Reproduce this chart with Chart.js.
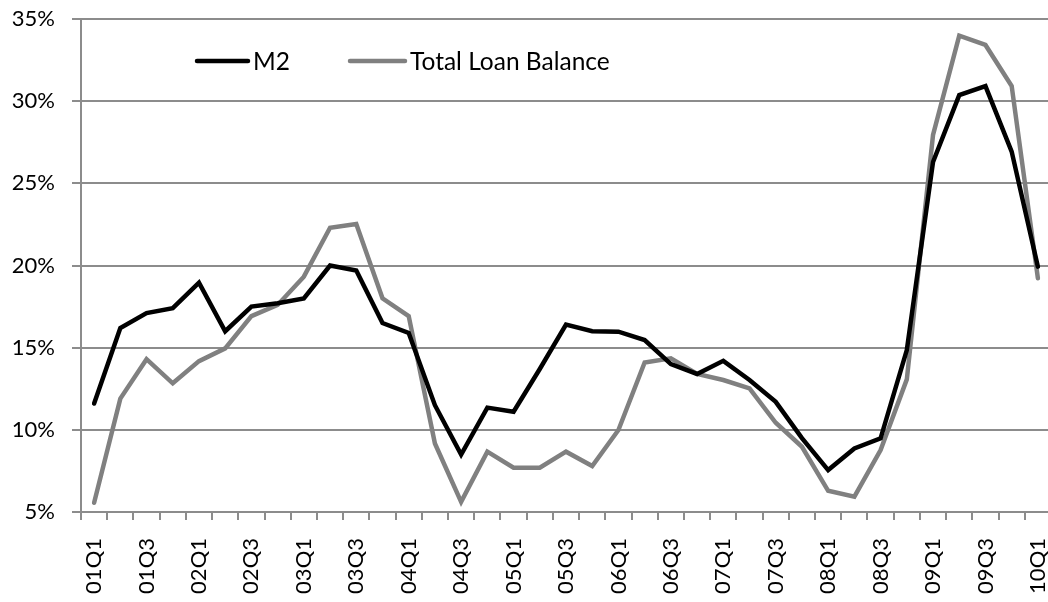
<!DOCTYPE html>
<html>
<head>
<meta charset="utf-8">
<script src="https://cdn.jsdelivr.net/npm/chart.js"></script>
<style>
    body { margin: 0; overflow: hidden; background: #ffffff; }
    #wrap { width: 1048px; height: 602px; overflow: hidden; }
</style>
</head>
<body>
<div id="wrap"><canvas id="Chart" width="1051" height="602"></canvas></div>
<script>
// Quarterly year-on-year growth, 2001Q1 - 2010Q1
const quarters = [
    '01Q1', '01Q2', '01Q3', '01Q4', '02Q1', '02Q2', '02Q3', '02Q4',
    '03Q1', '03Q2', '03Q3', '03Q4', '04Q1', '04Q2', '04Q3', '04Q4',
    '05Q1', '05Q2', '05Q3', '05Q4', '06Q1', '06Q2', '06Q3', '06Q4',
    '07Q1', '07Q2', '07Q3', '07Q4', '08Q1', '08Q2', '08Q3', '08Q4',
    '09Q1', '09Q2', '09Q3', '09Q4', '10Q1'
];
const m2Growth = [
    11.6, 16.2, 17.1, 17.4, 18.95, 16.0, 17.5, 17.7,
    18.0, 20.0, 19.7, 16.5, 15.9, 11.5, 8.5, 11.35,
    11.1, 13.7, 16.4, 16.0, 15.97, 15.46, 14.0, 13.4,
    14.2, 13.03, 11.7, 9.5, 7.55, 8.87, 9.48, 14.85,
    26.3, 30.37, 30.92, 26.93, 19.93
];
const loanGrowth = [
    5.56, 11.9, 14.3, 12.83, 14.18, 14.96, 16.92, 17.6,
    19.32, 22.3, 22.52, 18.0, 16.92, 9.17, 5.62, 8.67,
    7.7, 7.7, 8.67, 7.8, 9.99, 14.1, 14.35, 13.4,
    13.03, 12.52, 10.43, 8.97, 6.29, 5.93, 8.77, 13.07,
    27.94, 33.99, 33.42, 30.92, 19.22
];
const yTickValues = [5, 10, 15, 20, 25, 30, 35];

const gridGray = '#8c8c8c';
const fontFamily = 'Lato, "Liberation Sans", sans-serif';

// Legend drawn inside the plot area, like the original
const insideLegend = {
    id: 'insideLegend',
    afterDraw(chart) {
        const ctx = chart.ctx;
        const spots = [{ x: 197, w: 51 }, { x: 350, w: 55 }];
        const y = 61;
        ctx.save();
        ctx.font = '24.5px ' + fontFamily;
        ctx.textBaseline = 'middle';
        ctx.fillStyle = '#000000';
        chart.data.datasets.forEach((ds, i) => {
            const s = spots[i];
            ctx.strokeStyle = ds.borderColor;
            ctx.lineWidth = 4.5;
            ctx.lineCap = 'round';
            ctx.beginPath();
            ctx.moveTo(s.x, y);
            ctx.lineTo(s.x + s.w, y);
            ctx.stroke();
            ctx.fillText(ds.label, s.x + s.w + 5, y + 1);
        });
        ctx.restore();
    }
};

const ctx = document.getElementById('Chart').getContext('2d');
const myChart = new Chart(ctx, {
    type: 'line',
    data: {
        labels: quarters,
        datasets: [
            {
                label: 'M2',
                data: m2Growth,
                borderColor: '#000000',
                borderWidth: 4.5
            },
            {
                label: 'Total Loan Balance',
                data: loanGrowth,
                borderColor: '#808080',
                borderWidth: 4.5
            }
        ]
    },
    options: {
        responsive: false,
        animation: false,
        layout: { padding: { top: 19, left: 0, right: 0, bottom: 0 } },
        elements: {
            point: { radius: 0 },
            line: { tension: 0, borderCapStyle: 'round' }
        },
        plugins: {
            legend: { display: false },
            tooltip: { enabled: false }
        },
        scales: {
            x: {
                offset: true,
                grid: {
                    offset: true,
                    drawOnChartArea: false,
                    color: gridGray,
                    lineWidth: 2,
                    tickLength: 8
                },
                border: { color: gridGray, width: 2 },
                ticks: {
                    autoSkip: false,
                    minRotation: 90,
                    maxRotation: 90,
                    padding: 18,
                    color: '#000000',
                    font: { family: fontFamily, size: 22 },
                    callback: (v, i) => (i % 2 === 0 ? quarters[i] : '')
                },
                afterFit: s => {
                    s.height = 90;
                    s.paddingLeft = 0;
                    s.paddingRight = 0;
                }
            },
            y: {
                min: 5,
                max: 35,
                afterBuildTicks: s => { s.ticks = yTickValues.map(v => ({ value: v })); },
                grid: { color: gridGray, lineWidth: 2, tickLength: 9 },
                border: { color: gridGray, width: 2 },
                ticks: {
                    padding: 17,
                    color: '#000000',
                    font: { family: fontFamily, size: 22 },
                    callback: v => v + '%'
                },
                afterFit: s => {
                    s.width = 81;
                    s.paddingTop = 0;
                    s.paddingBottom = 0;
                }
            }
        }
    },
    plugins: [insideLegend]
});
</script>
</body>
</html>
